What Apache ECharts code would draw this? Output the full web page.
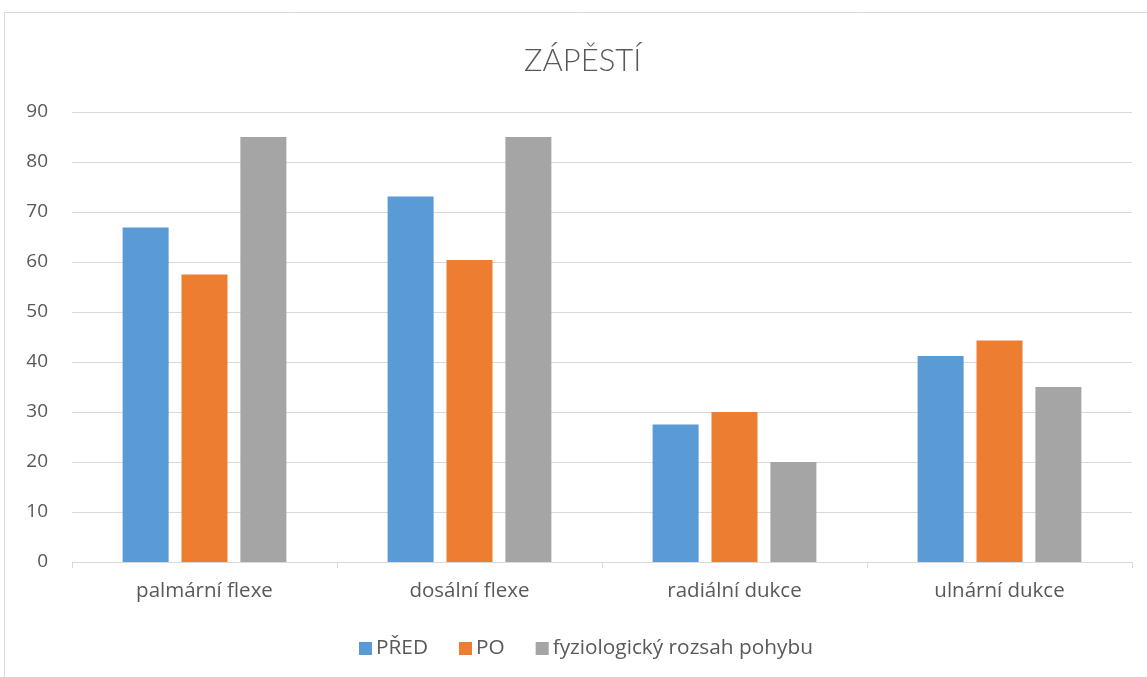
<!DOCTYPE html>
<html>
<head>
<meta charset="utf-8">
<script src="https://cdn.jsdelivr.net/npm/echarts@6/dist/echarts.min.js"></script>
<style>
  html, body { margin: 0; padding: 0; background: #fff; }
  #chart { width: 1147px; height: 677px; }
</style>
</head>
<body>
<div id="chart"></div>
<script>
// Wrist range of motion (degrees)
const categories = ['palmární flexe', 'dosální flexe', 'radiální dukce', 'ulnární dukce'];
const seriesNames = ['PŘED', 'PO', 'fyziologický rozsah pohybu'];
const predValues = [66.9, 73.1, 27.5, 41.2];
const poValues = [57.5, 60.4, 30.0, 44.3];
const fyzValues = [85, 85, 20, 35];
const colors = ['#5b9bd5', '#ed7d31', '#a5a5a5'];

const titleFont = 'Lato, "Open Sans", sans-serif';
const textFont = '"Open Sans", Lato, sans-serif';
const chart = echarts.init(document.getElementById('chart'));

const values = [predValues, poValues, fyzValues];

chart.setOption({
  animation: false,
  title: {
    text: 'ZÁPĚSTÍ',
    left: 519,
    top: 40,
    textStyle: { fontFamily: titleFont, fontSize: 31, fontWeight: 300, color: '#595959' }
  },
  graphic: [{
    type: 'rect',
    shape: { x: 4.5, y: 12.5, width: 1200, height: 700 },
    style: { fill: 'none', stroke: '#d9d9d9', lineWidth: 1 },
    silent: true
  }],
  legend: {
    top: 633,
    left: 354,
    itemWidth: 13,
    itemHeight: 13,
    itemGap: 31,
    icon: 'rect',
    data: seriesNames,
    textStyle: { fontFamily: textFont, fontSize: 20.8, color: '#595959', padding: [0, 0, 0, -1] }
  },
  grid: { left: 72, right: 15, top: 112, bottom: 115, containLabel: false },
  xAxis: {
    type: 'category',
    data: categories,
    axisLine: { lineStyle: { color: '#d9d9d9', width: 1 } },
    axisTick: { show: true, length: 6, lineStyle: { color: '#d9d9d9' } },
    axisLabel: { fontFamily: textFont, fontSize: 20.5, color: '#595959', margin: 19 }
  },
  yAxis: {
    type: 'value',
    min: 0,
    max: 90,
    interval: 10,
    axisLine: { show: false },
    axisTick: { show: false },
    splitLine: { lineStyle: { color: '#d9d9d9', width: 1 } },
    axisLabel: { fontFamily: textFont, fontSize: 19, color: '#595959', margin: 24 }
  },
  series: seriesNames.map((name, i) => ({
    name,
    type: 'bar',
    data: values[i],
    barWidth: 46,
    barGap: '28%',
    itemStyle: { color: colors[i] }
  }))
});
</script>
</body>
</html>
